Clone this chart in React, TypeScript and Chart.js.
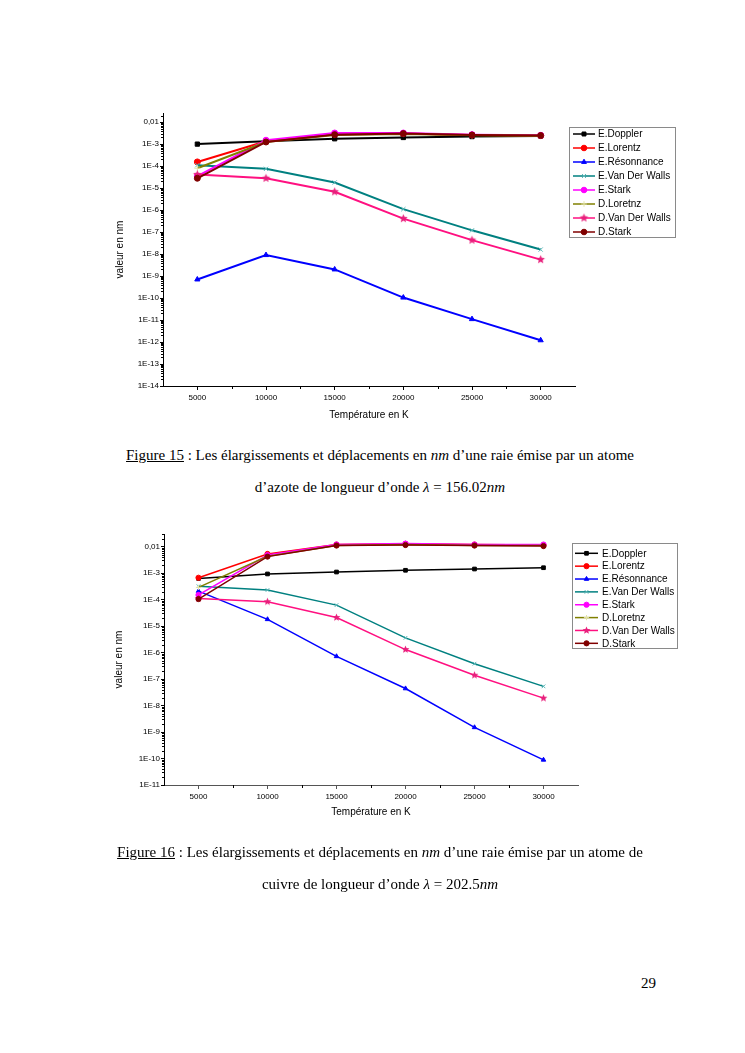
import React, { useEffect, useRef } from "react";
import { Chart, registerables } from "chart.js";
import { drawPoint } from "chart.js/helpers";

Chart.register(...registerables);
Chart.defaults.font.family = "'Liberation Sans', Arial, sans-serif";

// ---------- data ----------
const temperatures = [5000, 10000, 15000, 20000, 25000, 30000];
const xTickLabels = ["5000", "10000", "15000", "20000", "25000", "30000"];
const seriesNames = [
  "E.Doppler",
  "E.Lorentz",
  "E.Résonnance",
  "E.Van Der Walls",
  "E.Stark",
  "D.Loretnz",
  "D.Van Der Walls",
  "D.Stark",
];

// Figure 15 : azote, lambda = 156.02 nm
const az_eDoppler = [1.0e-3, 1.35e-3, 1.75e-3, 2.0e-3, 2.2e-3, 2.35e-3];
const az_eLorentz = [1.55e-4, 1.35e-3, 2.8e-3, 3.0e-3, 2.6e-3, 2.45e-3];
const az_eResonance = [7e-10, 9e-9, 2e-9, 1.05e-10, 1.1e-11, 1.2e-12];
const az_eVanDerWalls = [1.1e-4, 7.5e-5, 1.8e-5, 1.1e-6, 1.2e-7, 1.6e-8];
const az_eStark = [3.5e-5, 1.5e-3, 3.2e-3, 3.2e-3, 2.7e-3, 2.5e-3];
const az_dLorentz = [8e-5, 1.25e-3, 2.6e-3, 2.9e-3, 2.5e-3, 2.4e-3];
const az_dVanDerWalls = [4.1e-5, 2.8e-5, 6.8e-6, 4.1e-7, 4.3e-8, 5.6e-9];
const az_dStark = [2.8e-5, 1.25e-3, 2.7e-3, 3.0e-3, 2.6e-3, 2.45e-3];

const az_yTickValues = [1e-14, 1e-13, 1e-12, 1e-11, 1e-10, 1e-9, 1e-8, 1e-7, 1e-6, 1e-5, 1e-4, 1e-3, 1e-2];
const az_yTickLabels = ["1E-14", "1E-13", "1E-12", "1E-11", "1E-10", "1E-9", "1E-8", "1E-7", "1E-6", "1E-5", "1E-4", "1E-3", "0,01"];

// Figure 16 : cuivre, lambda = 202.5 nm
const cu_eDoppler = [6.3e-4, 9.3e-4, 1.1e-3, 1.28e-3, 1.43e-3, 1.6e-3];
const cu_eLorentz = [6.7e-4, 5.3e-3, 1.2e-2, 1.28e-2, 1.2e-2, 1.15e-2];
const cu_eResonance = [2.1e-4, 1.8e-5, 7.2e-7, 4.4e-8, 1.5e-9, 8.9e-11];
const cu_eVanDerWalls = [3.2e-4, 2.3e-4, 6.2e-5, 3.6e-6, 3.8e-7, 5.3e-8];
const cu_eStark = [1.5e-4, 4.8e-3, 1.2e-2, 1.3e-2, 1.2e-2, 1.2e-2];
const cu_dLorentz = [2.9e-4, 4.3e-3, 1.1e-2, 1.2e-2, 1.1e-2, 1.1e-2];
const cu_dVanDerWalls = [1.1e-4, 8.3e-5, 2.1e-5, 1.3e-6, 1.4e-7, 1.9e-8];
const cu_dStark = [1.05e-4, 4.2e-3, 1.1e-2, 1.15e-2, 1.1e-2, 1.05e-2];

const cu_yTickValues = [1e-11, 1e-10, 1e-9, 1e-8, 1e-7, 1e-6, 1e-5, 1e-4, 1e-3, 1e-2];
const cu_yTickLabels = ["1E-11", "1E-10", "1E-9", "1E-8", "1E-7", "1E-6", "1E-5", "1E-4", "1E-3", "0,01"];

// ---------- styles ----------
const lineColors = ["#000000", "#ff0000", "#0000ff", "#008080", "#ff00ff", "#808000", "#ff1080", "#800000"];
const markerColors = ["#000000", "#ff0000", "#0000ff", "#5cb8b8", "#ff00ff", "#e4e4a8", "#e8207c", "#800000"];

function makeStar(color: string, r: number) {
  const c = document.createElement("canvas");
  const s = Math.ceil(r * 2 + 2);
  c.width = s;
  c.height = s;
  const ctx = c.getContext("2d")!;
  ctx.fillStyle = color;
  ctx.beginPath();
  for (let i = 0; i < 10; i++) {
    const a = -Math.PI / 2 + (i * Math.PI) / 5;
    const rr = i % 2 === 0 ? r : r * 0.45;
    ctx.lineTo(s / 2 + rr * Math.cos(a), s / 2 + rr * Math.sin(a));
  }
  ctx.closePath();
  ctx.fill();
  return c;
}

const minorTicks = {
  id: "minorTicks",
  afterDraw(chart: any) {
    const { ctx, chartArea } = chart;
    const ys = chart.scales.y;
    const xs = chart.scales.x;
    ctx.save();
    ctx.strokeStyle = "#000";
    ctx.lineWidth = 1;
    ctx.beginPath();
    const d0 = Math.floor(Math.log10(ys.min));
    const d1 = Math.ceil(Math.log10(ys.max));
    for (let d = d0; d <= d1; d++) {
      for (let k = 2; k <= 9; k++) {
        const v = k * Math.pow(10, d);
        if (v < ys.min || v > ys.max) continue;
        const py = Math.round(ys.getPixelForValue(v)) + 0.5;
        ctx.moveTo(chartArea.left - 2, py);
        ctx.lineTo(chartArea.left, py);
      }
    }
    const step = temperatures[1] - temperatures[0];
    const mids = [temperatures[0] - step / 2, ...temperatures.map((t) => t + step / 2)];
    mids.forEach((v) => {
      if (v <= xs.min || v >= xs.max) return;
      const px = Math.round(xs.getPixelForValue(v)) + 0.5;
      ctx.moveTo(px, chartArea.bottom);
      ctx.lineTo(px, chartArea.bottom + 3);
    });
    ctx.stroke();
    ctx.restore();
  },
};

const boxLegend = {
  id: "boxLegend",
  afterDraw(chart: any, _args: any, o: any) {
    const ctx = chart.ctx;
    ctx.save();
    ctx.strokeStyle = "#8a8a8a";
    ctx.lineWidth = 1;
    ctx.strokeRect(Math.round(o.x) + 0.5, Math.round(o.y) + 0.5, o.w, o.h);
    chart.data.datasets.forEach((ds: any, i: number) => {
      const y = o.firstY + i * o.step;
      ctx.strokeStyle = ds.borderColor;
      ctx.lineWidth = 1.5;
      ctx.beginPath();
      ctx.moveTo(o.x0, y);
      ctx.lineTo(o.x1, y);
      ctx.stroke();
      ctx.fillStyle = ds.pointBackgroundColor;
      ctx.strokeStyle = ds.pointBorderColor;
      ctx.lineWidth = 1;
      drawPoint(ctx, { pointStyle: ds.pointStyle, rotation: 0, radius: o.r, borderWidth: 1 }, (o.x0 + o.x1) / 2, y);
      ctx.fillStyle = "#000";
      ctx.font = "10px 'Liberation Sans', Arial, sans-serif";
      ctx.textBaseline = "middle";
      ctx.textAlign = "left";
      ctx.fillText(ds.label, o.textX, y + 0.5);
    });
    ctx.restore();
  },
};

type Spec = {
  left: number;
  top: number;
  width: number;
  height: number;
  series: number[][];
  yMin: number;
  yMax: number;
  yTickValues: number[];
  yTickLabels: string[];
  area: { left: number; right: number; top: number; bottom: number };
  yTitlePad: number;
  xTickPad: number;
  xTitlePad: number;
  lineWidth: number;
  pointRadius: number;
  xBorderColor: string;
  legend: any;
};

function LogChart({ spec }: { spec: Spec }) {
  const ref = useRef<HTMLCanvasElement | null>(null);
  useEffect(() => {
    if (!ref.current) return;
    const s = spec;
    const styles: any[] = [
      "rect",
      "circle",
      "triangle",
      "crossRot",
      "circle",
      "cross",
      makeStar(markerColors[6], s.pointRadius + 1.5),
      "circle",
    ];
    const xScaleHeight = 40;
    const datasets = s.series.map((vals, i) => ({
      label: seriesNames[i],
      data: temperatures.map((t, j) => ({ x: t, y: vals[j] })),
      borderColor: lineColors[i],
      backgroundColor: lineColors[i],
      pointBackgroundColor: markerColors[i],
      pointBorderColor: i === 3 ? markerColors[i] : i === 5 ? markerColors[i] : lineColors[i],
      pointBorderWidth: 1,
      pointStyle: styles[i],
      pointRadius: s.pointRadius,
      borderWidth: s.lineWidth,
      tension: 0,
      order: -i,
    }));
    const chart = new Chart(ref.current, {
      type: "line",
      data: { datasets },
      plugins: [minorTicks, boxLegend],
      options: {
        animation: false,
        responsive: false,
        events: [],
        layout: {
          padding: {
            left: 0,
            right: s.width - s.area.right,
            top: s.area.top,
            bottom: s.height - s.area.bottom - xScaleHeight,
          },
        },
        plugins: {
          legend: { display: false },
          tooltip: { enabled: false },
          boxLegend: s.legend,
        } as any,
        scales: {
          x: {
            type: "linear",
            min: 2500,
            max: 32500,
            afterBuildTicks: (sc: any) => {
              sc.ticks = temperatures.map((v) => ({ value: v }));
            },
            afterFit: (sc: any) => {
              sc.height = xScaleHeight;
            },
            ticks: {
              autoSkip: false,
              maxRotation: 0,
              padding: s.xTickPad,
              color: "#000",
              font: { size: 8 },
              callback: (_v: any, i: number) => xTickLabels[i],
            },
            grid: { display: true, drawOnChartArea: false, drawTicks: true, tickLength: 4, tickColor: s.xBorderColor },
            border: { display: true, color: s.xBorderColor, width: 1 },
            title: {
              display: true,
              text: "Température en K",
              color: "#000",
              font: { size: 10, lineHeight: 1.2 },
              padding: { top: 0, bottom: s.xTitlePad },
            },
          },
          y: {
            type: "logarithmic",
            min: s.yMin,
            max: s.yMax,
            afterBuildTicks: (sc: any) => {
              sc.ticks = s.yTickValues.map((v) => ({ value: v }));
            },
            afterFit: (sc: any) => {
              sc.width = s.area.left;
            },
            ticks: {
              autoSkip: false,
              padding: 1,
              color: "#000",
              font: { size: 8 },
              callback: (_v: any, i: number) => s.yTickLabels[i],
            },
            grid: { display: true, drawOnChartArea: false, drawTicks: true, tickLength: 3, tickColor: "#000" },
            border: { display: true, color: "#000", width: 1 },
            title: {
              display: true,
              text: "valeur en nm",
              color: "#000",
              font: { size: 10, lineHeight: 1.2 },
              padding: { top: s.yTitlePad, bottom: 0 },
            },
          },
        },
      } as any,
    });
    return () => chart.destroy();
  }, [spec]);
  return (
    <canvas
      ref={ref}
      width={spec.width}
      height={spec.height}
      style={{ position: "absolute", left: spec.left, top: spec.top, width: spec.width, height: spec.height }}
    />
  );
}

const spec15: Spec = {
  left: 100,
  top: 100,
  width: 600,
  height: 330,
  series: [az_eDoppler, az_eLorentz, az_eResonance, az_eVanDerWalls, az_eStark, az_dLorentz, az_dVanDerWalls, az_dStark],
  yMin: 1e-14,
  yMax: 0.026,
  yTickValues: az_yTickValues,
  yTickLabels: az_yTickLabels,
  area: { left: 63, right: 475, top: 13, bottom: 286 },
  yTitlePad: 14,
  xTickPad: 2.5,
  xTitlePad: 5,
  lineWidth: 2,
  pointRadius: 3,
  xBorderColor: "#000",
  legend: { x: 469, y: 27, w: 106, h: 110, firstY: 34, step: 14, x0: 473, x1: 495, textX: 498, r: 2.8 },
};

const spec16: Spec = {
  left: 100,
  top: 520,
  width: 600,
  height: 320,
  series: [cu_eDoppler, cu_eLorentz, cu_eResonance, cu_eVanDerWalls, cu_eStark, cu_dLorentz, cu_dVanDerWalls, cu_dStark],
  yMin: 1e-11,
  yMax: 0.03,
  yTickValues: cu_yTickValues,
  yTickLabels: cu_yTickLabels,
  area: { left: 64, right: 478, top: 14, bottom: 265 },
  yTitlePad: 13,
  xTickPad: 3,
  xTitlePad: 7,
  lineWidth: 1.5,
  pointRadius: 2.6,
  xBorderColor: "#555",
  legend: { x: 472, y: 23, w: 105, h: 105, firstY: 33.3, step: 12.86, x0: 475, x1: 498, textX: 502, r: 2.6 },
};

const serif = "'Liberation Serif', 'Times New Roman', serif";

export default function App() {
  return (
    <div style={{ position: "absolute", left: 0, top: 0, width: 745, height: 1053, background: "#fff", overflow: "hidden" }}>
      <LogChart spec={spec15} />
      <LogChart spec={spec16} />
      <div
        style={{
          position: "absolute",
          left: 80,
          width: 600,
          top: 439,
          textAlign: "center",
          fontFamily: serif,
          fontSize: 15,
          lineHeight: "32px",
          color: "#000",
        }}
      >
        <span style={{ textDecoration: "underline" }}>Figure 15</span> : Les élargissements et déplacements en <i>nm</i> d’une raie émise par un atome
        <br />
        d’azote de longueur d’onde <i>λ</i> = 156.02<i>nm</i>
      </div>
      <div
        style={{
          position: "absolute",
          left: 80,
          width: 600,
          top: 836,
          textAlign: "center",
          fontFamily: serif,
          fontSize: 15,
          lineHeight: "32px",
          color: "#000",
        }}
      >
        <span style={{ textDecoration: "underline" }}>Figure 16</span> : Les élargissements et déplacements en <i>nm</i> d’une raie émise par un atome de
        <br />
        cuivre de longueur d’onde <i>λ</i> = 202.5<i>nm</i>
      </div>
      <div style={{ position: "absolute", left: 641, top: 973, fontFamily: serif, fontSize: 15, lineHeight: "20px" }}>29</div>
    </div>
  );
}
